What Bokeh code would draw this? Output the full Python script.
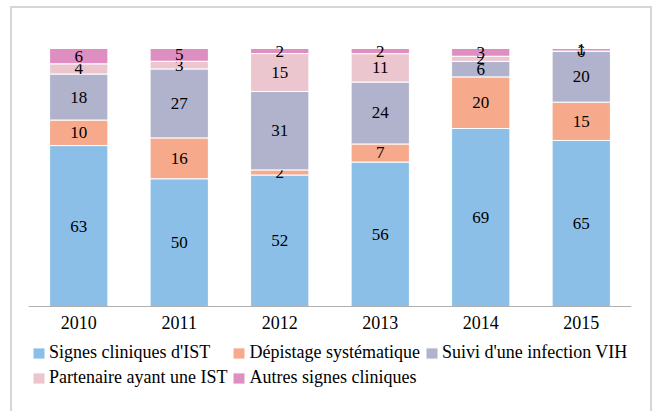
from bokeh.plotting import figure
from bokeh.models import ColumnDataSource, FactorRange, Range1d, Legend, LegendItem
from bokeh.core.properties import value
from bokeh.embed import file_html
from bokeh.resources import INLINE

years = ["2010", "2011", "2012", "2013", "2014", "2015"]
signes = [63, 50, 52, 56, 69, 65]
depistage = [10, 16, 2, 7, 20, 15]
suivi = [18, 27, 31, 24, 6, 20]
partenaire = [4, 3, 15, 11, 2, 0]
autres = [6, 5, 2, 2, 3, 1]

series_names = ["Signes cliniques d'IST", "Dépistage systématique",
                "Suivi d'une infection VIH", "Partenaire ayant une IST",
                "Autres signes cliniques"]
series_values = [signes, depistage, suivi, partenaire, autres]
colors = ["#8cbfe8", "#f6a98b", "#b1b3cc", "#ecc6cf", "#de8ec0"]

FONT = "Liberation Serif"

p = figure(x_range=FactorRange(*years, range_padding=0),
           y_range=Range1d(-39.53, 110.85),
           frame_width=603, frame_height=388,
           output_backend="svg", toolbar_location=None,
           min_border_left=16, min_border_right=19,
           min_border_top=12, min_border_bottom=3)
p.styles = {"border-left": "2px solid #d6d6d6", "border-top": "2px solid #d6d6d6",
            "border-right": "2px solid #d6d6d6", "margin-left": "10px",
            "margin-top": "6px"}
p.outline_line_color = None
p.xgrid.visible = False
p.ygrid.visible = False
p.yaxis.visible = False
p.background_fill_color = "white"
p.border_fill_color = "white"

xa = p.xaxis[0]
xa.fixed_location = 0
xa.axis_line_color = "#b0b0b0"
xa.axis_line_width = 1
xa.major_tick_line_color = None
xa.major_tick_out = 0
xa.minor_tick_line_color = None
xa.major_label_text_font = FONT
xa.major_label_text_font_size = "18px"
xa.major_label_text_color = "black"
xa.major_label_standoff = 9

totals = [sum(v[i] for v in series_values) for i in range(len(years))]
bottom = [0.0] * len(years)
items = []
for name, vals, col in zip(series_names, series_values, colors):
    pct = [v / t * 100 for v, t in zip(vals, totals)]
    top = [b + q for b, q in zip(bottom, pct)]
    mid = [(b + t) / 2 for b, t in zip(bottom, top)]
    src = ColumnDataSource(dict(x=years, bottom=bottom, top=top, mid=mid,
                                label=[str(v) for v in vals]))
    r = p.vbar(x="x", bottom="bottom", top="top", width=0.58, source=src,
               fill_color=col, line_color="white", line_width=1)
    p.text(x="x", y="mid", text="label", source=src, text_align="center",
           text_baseline="middle", text_font=value(FONT), text_font_size="17px",
           text_color="black")
    items.append(LegendItem(label=name, renderers=[r]))
    bottom = top

legend = Legend(items=items, location=(3, 20), orientation="horizontal",
                ncols=3, padding=0, margin=0, spacing=4,
                glyph_width=15, glyph_height=14, label_standoff=3,
                label_height=18, label_text_font=FONT,
                label_text_font_size="18px", label_text_color="black",
                border_line_color=None, background_fill_alpha=0)
p.add_layout(legend, "center")

open("out.html", "w").write(file_html(p, INLINE))
